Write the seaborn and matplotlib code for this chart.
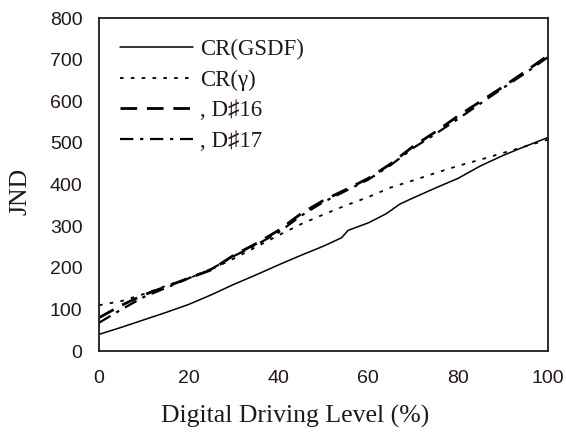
import pandas as pd
import seaborn as sns
import matplotlib
matplotlib.use("Agg")
import matplotlib.pyplot as plt

# datos
x_gsdf = [0, 5, 10, 15, 20, 25, 30, 35, 40, 45, 50, 54, 55.5, 60, 64, 67, 70, 75, 80, 85, 90, 95, 100]
cr_gsdf = [40, 57, 75, 93, 112, 135, 160, 183, 207, 230, 252, 272, 290, 308, 330, 353, 368, 392, 415, 445, 470, 492, 513]

x_lvl = [0, 5, 10, 15, 20, 25, 30, 35, 40, 45, 50, 55, 60, 65, 70, 75, 80, 85, 90, 95, 100]
cr_gamma = [110, 120, 137, 157, 175, 196, 222, 250, 278, 305, 328, 350, 370, 393, 410, 428, 445, 460, 476, 492, 508]
d16 = [80, 110, 135, 155, 175, 195, 230, 258, 290, 330, 362, 388, 415, 450, 492, 527, 565, 600, 635, 672, 710]
d17 = [68, 100, 130, 152, 175, 197, 228, 255, 285, 325, 358, 385, 412, 447, 488, 522, 558, 595, 632, 668, 706]

labels = ["CR(GSDF)", "CR(\u03b3)", ", D\u266f16", ", D\u266f17"]
x_ticks = [0, 20, 40, 60, 80, 100]
y_ticks = [0, 100, 200, 300, 400, 500, 600, 700, 800]

sns.set_style("white")
serif = ["Liberation Serif", "DejaVu Serif", "DejaVu Sans"]
sans = ["Liberation Sans", "DejaVu Sans"]

fig = plt.figure(figsize=(5.66, 4.32), dpi=100)
ax = fig.add_axes([0.175, 0.1875, 0.793, 0.7705])

df_gsdf = pd.DataFrame({"x": x_gsdf, "y": cr_gsdf})
df_lvl = pd.DataFrame({"x": x_lvl, "gamma": cr_gamma, "d16": d16, "d17": d17})

sns.lineplot(data=df_gsdf, x="x", y="y", ax=ax, color="black", linewidth=1.1,
             linestyle="-", label=labels[0])
sns.lineplot(data=df_lvl, x="x", y="gamma", ax=ax, color="black", linewidth=1.3,
             dashes=(2, 4), label=labels[1])
sns.lineplot(data=df_lvl, x="x", y="d16", ax=ax, color="black", linewidth=2.0,
             dashes=(6, 3.5), label=labels[2])
sns.lineplot(data=df_lvl, x="x", y="d17", ax=ax, color="black", linewidth=1.6,
             dashes=(6, 3, 1.5, 3), label=labels[3])

ax.set_xlim(0, 100)
ax.set_ylim(0, 800)
ax.set_xticks(x_ticks)
ax.set_yticks(y_ticks)
for sp in ax.spines.values():
    sp.set_color("#231815")
    sp.set_linewidth(1.3)
    sp.set_visible(True)
ax.tick_params(axis="x", direction="inout", length=7, width=1.2, pad=10, labelsize=14)
ax.tick_params(axis="y", direction="out", length=6, width=1.2, pad=6, labelsize=14)
for t in ax.get_xticklabels() + ax.get_yticklabels():
    t.set_family(sans)
    t.set_color("#231815")

ax.set_xlabel("Digital Driving Level (%)", family=serif, fontsize=18.5, color="#231815",
              va="center")
ax.set_ylabel("JND", family=serif, fontsize=18.5, color="#231815", va="center")
ax.xaxis.set_label_coords(0.437, -0.198)
ax.yaxis.set_label_coords(-0.176, 0.48)

leg = ax.legend(loc="upper left", frameon=False, handlelength=3.2, handletextpad=0.3,
                labelspacing=0.42, borderaxespad=0.5,
                prop={"family": serif, "size": 16.5})
for t in leg.get_texts():
    t.set_color("#231815")

plt.savefig("out.png", dpi=100)
